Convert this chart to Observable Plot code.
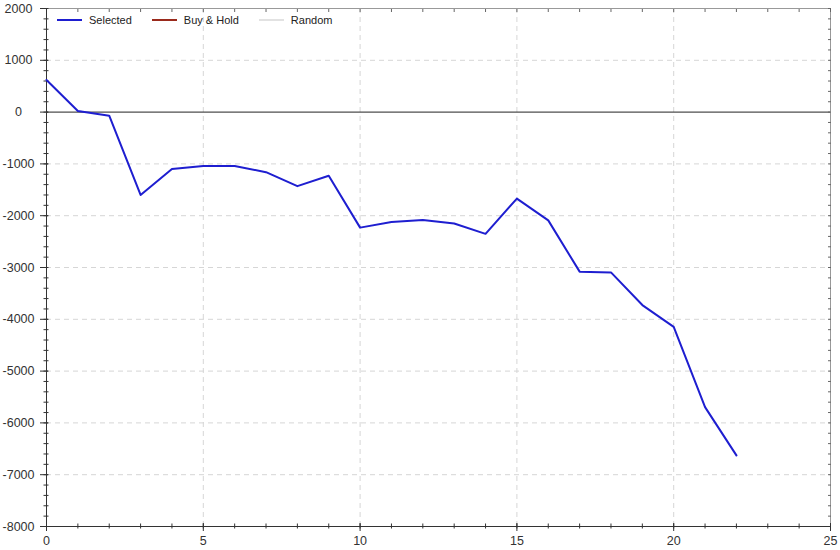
<!DOCTYPE html>
<html>
<head>
<meta charset="utf-8">
<script src="https://cdn.jsdelivr.net/npm/d3@7"></script>
<script src="https://cdn.jsdelivr.net/npm/@observablehq/plot@0.6"></script>
<style>
  body { margin: 0; background: #fff; font-family: "Liberation Sans", Arial, sans-serif; }
  #wrap { position: relative; width: 840px; height: 550px; }
  #legend { position: absolute; left: 57px; top: 14px; display: flex; align-items: center; font-size: 11px; color: #222; }
  #legend .item { display: flex; align-items: center; margin-right: 20px; }
  #legend .sw { display: inline-block; width: 25px; height: 2px; margin-right: 7px; }
</style>
</head>
<body>
<div id="wrap">
  <div id="chart"></div>
  <div id="legend"></div>
</div>
<script>
const steps = [0,1,2,3,4,5,6,7,8,9,10,11,12,13,14,15,16,17,18,19,20,21,22];
const selected = [620,20,-70,-1600,-1100,-1040,-1040,-1160,-1430,-1230,-2230,-2120,-2085,-2150,-2350,-1670,-2090,-3080,-3095,-3725,-4145,-5695,-6627];
const seriesNames = ["Selected", "Buy & Hold", "Random"];
const seriesColors = ["#1e1ed0", "#9a2a1c", "#e2e2e2"];
const xMajor = [0,5,10,15,20,25];
const yMajor = [2000,1000,0,-1000,-2000,-3000,-4000,-5000,-6000,-7000,-8000];

const data = steps.map((s, i) => ({step: s, value: selected[i]}));
const xMinor = d3.range(0, 26, 1);
const yMinor = d3.range(-8000, 2001, 200);

const font = "12.5px 'Liberation Sans', Arial, sans-serif";

const chart = Plot.plot({
  width: 840,
  height: 550,
  marginLeft: 46,
  marginRight: 10,
  marginTop: 8,
  marginBottom: 24,
  style: {font, color: "#333", background: "#fff"},
  x: {domain: [0, 25], label: null},
  y: {domain: [-8000, 2000], label: null},
  marks: [
    Plot.gridX(xMajor.slice(1, -1), {stroke: "#d6d6d6", strokeOpacity: 1, strokeDasharray: "5,4"}),
    Plot.gridY(yMajor.filter(v => v !== 0 && v !== 2000 && v !== -8000), {stroke: "#d6d6d6", strokeOpacity: 1, strokeDasharray: "5,4"}),
    Plot.ruleY([0], {stroke: "#222", strokeWidth: 1}),
    Plot.frame({stroke: "#999"}),
    Plot.axisX(xMinor, {anchor: "bottom", tickSize: 5, dy: -2.5, text: null, label: null, stroke: "#333"}),
    Plot.axisY(yMinor, {anchor: "left", tickSize: 5, dx: 2.5, text: null, label: null, stroke: "#333"}),
    Plot.axisX(xMinor, {anchor: "top", tickSize: 3, dy: 3, text: null, label: null, stroke: "#666"}),
    Plot.axisY(yMinor, {anchor: "right", tickSize: 3, dx: -3, text: null, label: null, stroke: "#666"}),
    Plot.axisX(xMajor, {anchor: "bottom", tickSize: 8, dy: -3, tickPadding: 5, label: null, stroke: "#333", fill: "#333", tickFormat: d => String(d)}),
    Plot.axisY(yMajor, {anchor: "left", tickSize: 8, dx: 2, tickPadding: 22, textAnchor: "middle", label: null, stroke: "#333", fill: "#333", tickFormat: d => String(d)}),
    Plot.ruleX([0], {stroke: "#333"}),
    Plot.ruleY([-8000], {stroke: "#333"}),
    Plot.line(data, {x: "step", y: "value", stroke: seriesColors[0], strokeWidth: 2})
  ]
});
document.getElementById("chart").appendChild(chart);

const legend = document.getElementById("legend");
seriesNames.forEach((name, i) => {
  const item = document.createElement("div");
  item.className = "item";
  const sw = document.createElement("span");
  sw.className = "sw";
  sw.style.background = seriesColors[i];
  const label = document.createElement("span");
  label.textContent = name;
  item.appendChild(sw);
  item.appendChild(label);
  legend.appendChild(item);
});
</script>
</body>
</html>
